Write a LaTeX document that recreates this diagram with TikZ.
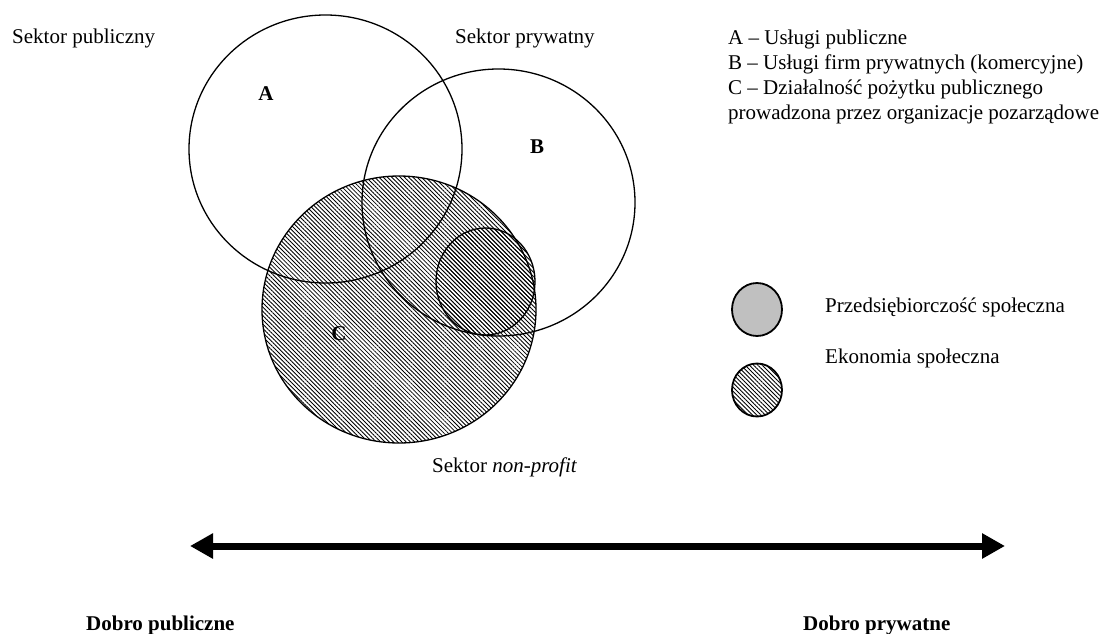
\documentclass[tikz,border=0pt]{standalone}
\usepackage{fontspec}
\setmainfont{Liberation Serif}
\usetikzlibrary{shapes.geometric,patterns.meta,arrows.meta}
\tikzset{
  txt/.style={inner sep=0pt,font=\fontsize{21}{25}\selectfont},
  lbl/.style={txt,font=\fontsize{21}{25}\selectfont\bfseries},
  ring/.style={ellipse,draw,line width=1.3pt,inner sep=0pt},
  hatch/.style={pattern={Lines[angle=-45,distance=3pt,line width=0.85pt]},pattern color=black},
  key/.style={ellipse,draw,line width=1.8pt,inner sep=0pt,minimum width=50pt,minimum height=53pt},
  axis/.style={line width=7pt,{Triangle[width=24pt,length=23pt]}-{Triangle[width=24pt,length=23pt]}}
}
\begin{document}
\begin{tikzpicture}[x=1pt,y=-1pt]
\useasboundingbox (0,0) rectangle (1105,634);
% hatched non-profit circle
\node[ring,hatch,minimum width=274pt,minimum height=267pt] (C) at (399,309.5) {};
% public and private sector circles
\node[ring,minimum width=273pt,minimum height=268pt] (A) at (325.5,149) {};
\node[ring,minimum width=273pt,minimum height=267pt] (B) at (498.5,202.5) {};
% small circle (social enterprise)
\node[ring,hatch,minimum width=99pt,minimum height=107pt] (S) at (485.5,281.5) {};
% letters
\node[lbl] (la) at (266,94) {A};
\node[lbl] (lb) at (537,147) {B};
\node[lbl] (lc) at (339,334) {C};
% sector labels
\node[txt,anchor=base west] (sp) at (12,44) {Sektor publiczny};
\node[txt,anchor=base west] (spr) at (455,44) {Sektor prywatny};
\node[txt,anchor=base west] (snp) at (432,472) {Sektor \textit{non-profit}};
% legend
\node[txt,anchor=base west] (l1) at (728,45) {A – Usługi publiczne};
\node[txt,anchor=base west] (l2) at (728,70) {B – Usługi firm prywatnych (komercyjne)};
\node[txt,anchor=base west] (l3) at (728,94.5) {C – Działalność pożytku publicznego};
\node[txt,anchor=base west] (l4) at (728,119) {prowadzona przez organizacje pozarządowe};
\node[key,fill={rgb,255:red,192;green,192;blue,192}] (k1) at (757,309.5) {};
\node[key,hatch] (k2) at (757,390) {};
\node[txt,anchor=base west] (t1) at (825,312) {Przedsiębiorczość społeczna};
\node[txt,anchor=base west] (t2) at (825,363) {Ekonomia społeczna};
% axis
\coordinate (L) at (190,546);
\coordinate (R) at (1005,546);
\draw[axis] (L) -- (R);
\node[lbl,anchor=base west] (dp) at (86,630) {Dobro publiczne};
\node[lbl,anchor=base west] (dpr) at (803,630) {Dobro prywatne};
\end{tikzpicture}
\end{document}
